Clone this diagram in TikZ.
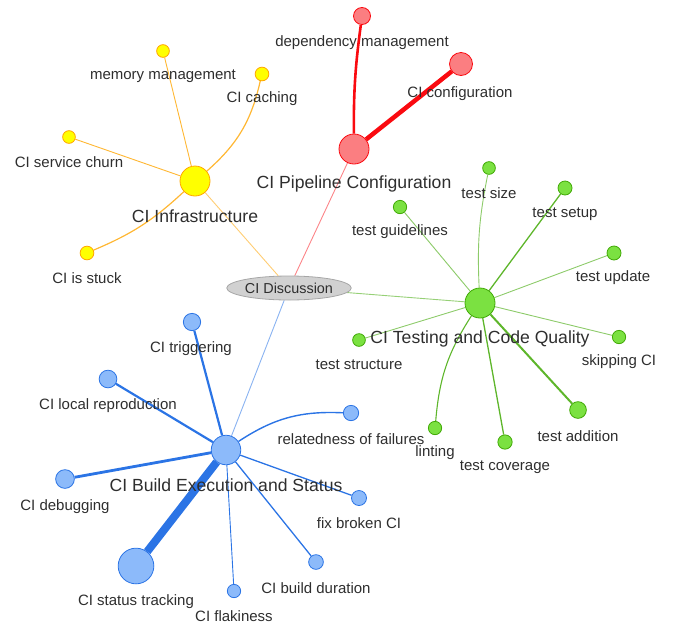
\documentclass[tikz,border=0pt]{standalone}
\usepackage{fontspec}
\setmainfont{Liberation Sans}
\usetikzlibrary{shapes.geometric}
\definecolor{yfill}{HTML}{FFFF00}
\definecolor{ybord}{HTML}{FFA500}
\definecolor{rfill}{HTML}{FB7E81}
\definecolor{rbord}{HTML}{FA0A10}
\definecolor{gfill}{HTML}{7BE141}
\definecolor{gbord}{HTML}{41A906}
\definecolor{bfill}{HTML}{8CBAFA}
\definecolor{bbord}{HTML}{2B74E5}
\definecolor{txt}{HTML}{2E2E2E}
\pgfdeclarelayer{bg}
\pgfsetlayers{bg,main}
\tikzset{
  dot/.style={circle, inner sep=0pt, minimum size=#1, line width=0.8pt},
  ydot/.style={dot=#1, fill=yfill, draw=ybord},
  rdot/.style={dot=#1, fill=rfill, draw=rbord},
  gdot/.style={dot=#1, fill=gfill, draw=gbord},
  bdot/.style={dot=#1, fill=bfill, draw=bbord},
  leaflab/.style={inner sep=0pt, yshift=-2pt, text=txt, font=\fontsize{15}{15}\selectfont},
  hublab/.style={inner sep=0pt, yshift=-2pt, text=txt, font=\fontsize{17.6}{17.6}\selectfont},
  ye/.style={draw=ybord!80, line width=#1},
  re/.style={draw=rbord, line width=#1},
  ge/.style={draw=gbord!85, line width=#1},
  be/.style={draw=bbord, line width=#1},
}
\begin{document}
\begin{tikzpicture}[x=1pt,y=-1pt]
\useasboundingbox (0,0) rectangle (679,627);
% center
\node[ellipse, minimum width=102pt, minimum height=24pt, inner sep=0pt, fill=black!18, draw=black!35, line width=0.8pt, text=txt, font=\fontsize{14.4}{14.4}\selectfont] (disc) at (289,288) {CI Discussion};
% yellow
\node[ydot=30pt] (yh) at (195,181) {};
\node[ydot=12.7pt] (y1) at (163,51) {};
\node[ydot=13.7pt] (y2) at (262,74) {};
\node[ydot=12.7pt] (y3) at (69,137) {};
\node[ydot=13.7pt] (y4) at (87,253) {};
% red
\node[rdot=30pt] (rh) at (354,149) {};
\node[rdot=17pt] (r1) at (362,16) {};
\node[rdot=23pt] (r2) at (461,64) {};
% green
\node[gdot=30pt] (gh) at (480,303) {};
\node[gdot=12.7pt] (g1) at (489,168) {};
\node[gdot=14pt] (g2) at (565,188) {};
\node[gdot=13.3pt] (g3) at (400,207) {};
\node[gdot=14pt] (g4) at (614,253) {};
\node[gdot=13.3pt] (g5) at (619,337) {};
\node[gdot=12.7pt] (g6) at (359,340) {};
\node[gdot=16.7pt] (g7) at (578,410) {};
\node[gdot=13.3pt] (g8) at (435,428) {};
\node[gdot=14.3pt] (g9) at (505,442) {};
% blue
\node[bdot=29.5pt] (bh) at (226,450) {};
\node[bdot=17.3pt] (b1) at (192,322) {};
\node[bdot=17.7pt] (b2) at (108,379) {};
\node[bdot=15.3pt] (b3) at (351,413) {};
\node[bdot=18.7pt] (b4) at (65,479) {};
\node[bdot=15pt] (b5) at (359,498) {};
\node[bdot=35.7pt] (b6) at (136,566) {};
\node[bdot=13.3pt] (b7) at (234,591) {};
\node[bdot=14.7pt] (b8) at (316,562) {};
% edges
\begin{pgfonlayer}{bg}
\draw[ye=0.9pt, draw=ybord!55] (yh) -- (disc);
\draw[re=0.9pt, draw=rbord!50] (rh) -- (disc);
\draw[ge=0.9pt, draw=gbord!55] (gh) -- (disc);
\draw[be=0.9pt, draw=bbord!55] (bh) -- (disc);
\draw[ye=0.9pt] (yh) -- (y1);
\draw[ye=1.2pt] (yh) to[bend right=18] (y2);
\draw[ye=0.9pt] (yh) -- (y3);
\draw[ye=1.2pt] (yh) to[bend left=10] (y4);
\draw[re=2.6pt] (rh) to[bend left=4] (r1);
\draw[re=4.5pt] (rh) -- (r2);
\draw[ge=0.9pt, draw=gbord!60] (gh) to[bend left=7] (g1);
\draw[ge=1.3pt] (gh) -- (g2);
\draw[ge=0.9pt, draw=gbord!60] (gh) -- (g3);
\draw[ge=0.9pt, draw=gbord!60] (gh) -- (g4);
\draw[ge=0.9pt, draw=gbord!60] (gh) -- (g5);
\draw[ge=0.9pt, draw=gbord!60] (gh) -- (g6);
\draw[ge=2pt] (gh) -- (g7);
\draw[ge=1.1pt] (gh) to[bend right=14] (g8);
\draw[ge=1.3pt] (gh) -- (g9);
\draw[be=2.2pt] (bh) -- (b1);
\draw[be=2.2pt] (bh) -- (b2);
\draw[be=1.4pt] (bh) to[bend left=18] (b3);
\draw[be=2.8pt] (bh) -- (b4);
\draw[be=1.3pt] (bh) -- (b5);
\draw[be=8pt] (bh) -- (b6);
\draw[be=0.9pt] (bh) -- (b7);
\draw[be=1.3pt] (bh) -- (b8);
\end{pgfonlayer}
% labels
\node[leaflab] (y1l) at (163,74) {memory management};
\node[leaflab] (y2l) at (262,97) {CI caching};
\node[leaflab] (y3l) at (69,160) {CI service churn};
\node[leaflab] (y4l) at (87,276) {CI is stuck};
\node[hublab] (yhl) at (195,214) {CI Infrastructure};
\node[leaflab] (r1l) at (362,41) {dependency management};
\node[leaflab] (r2l) at (460,92) {CI configuration};
\node[hublab] (rhl) at (354,182) {CI Pipeline Configuration};
\node[leaflab] (g1l) at (489,191) {test size};
\node[leaflab] (g2l) at (565,212) {test setup};
\node[leaflab] (g3l) at (400,230) {test guidelines};
\node[leaflab] (g4l) at (613,276) {test update};
\node[leaflab] (g5l) at (619,360) {skipping CI};
\node[leaflab] (g6l) at (359,363) {test structure};
\node[leaflab] (g7l) at (578,434) {test addition};
\node[leaflab] (g8l) at (435,451) {linting};
\node[leaflab] (g9l) at (505,465) {test coverage};
\node[hublab] (ghl) at (480,337) {CI Testing and Code Quality};
\node[leaflab] (b1l) at (191,347) {CI triggering};
\node[leaflab] (b2l) at (108,404) {CI local reproduction};
\node[leaflab] (b3l) at (351,437) {relatedness of failures};
\node[leaflab] (b4l) at (65,505) {CI debugging};
\node[leaflab] (b5l) at (359,521) {fix broken CI};
\node[leaflab] (b6l) at (136,600) {CI status tracking};
\node[leaflab] (b7l) at (234,614) {CI flakiness};
\node[leaflab] (b8l) at (316,586) {CI build duration};
\node[hublab] (bhl) at (226,483) {CI Build Execution and Status};
\end{tikzpicture}
\end{document}
